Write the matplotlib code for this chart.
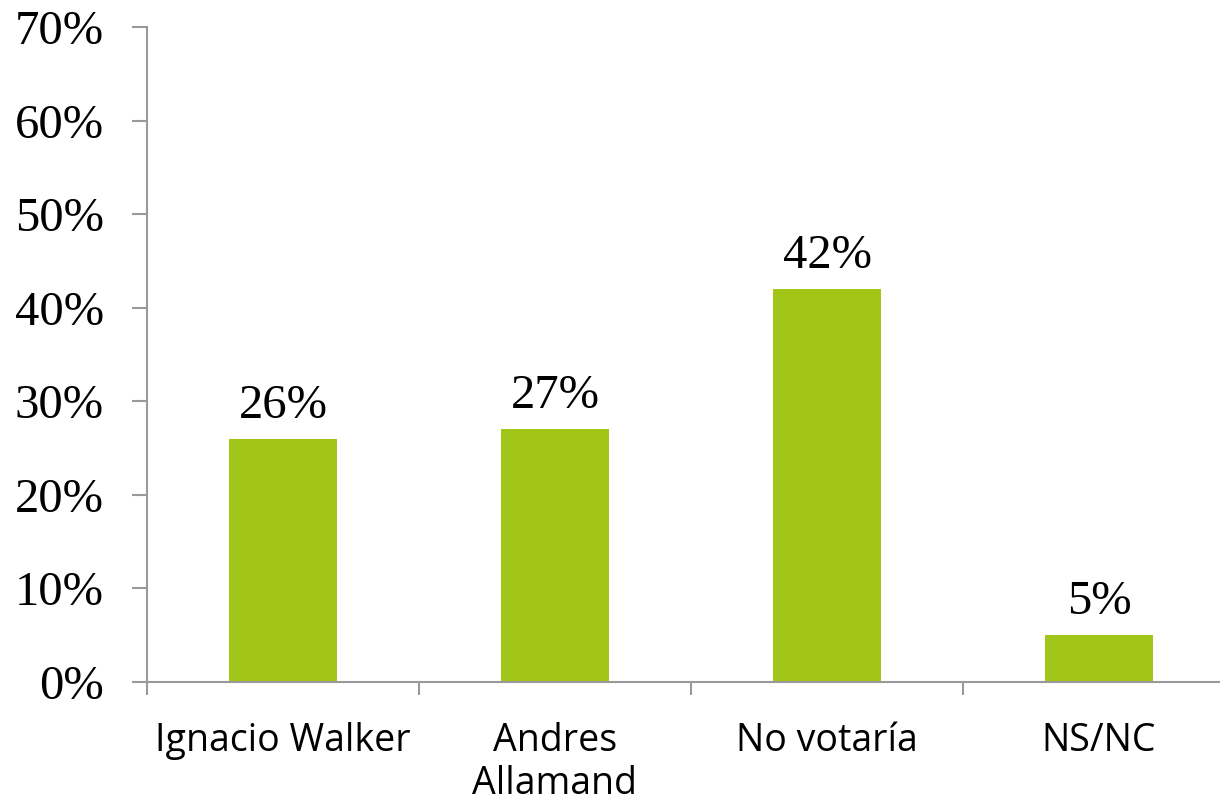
import matplotlib.pyplot as plt
from matplotlib.ticker import FixedLocator

categories = ['Ignacio Walker', 'Andres\nAllamand', 'No votaría', 'NS/NC']
values = [26, 27, 42, 5]
yticks = [0, 10, 20, 30, 40, 50, 60, 70]

bar_color = '#A2C617'
axis_color = '#999999'
num_font = 'Liberation Serif'
cat_font = ['Open Sans', 'DejaVu Sans']

fig = plt.figure(figsize=(12.2, 8.02), dpi=100)
ax = fig.add_axes([147 / 1220, 120 / 802, 1088 / 1220, 655 / 802])

x = list(range(len(categories)))
bars = ax.bar(x, values, width=0.4, color=bar_color)

for xi, v in zip(x, values):
    ax.annotate(f'{v}%', (xi, v), xytext=(0, 8), textcoords='offset points',
                ha='center', va='bottom', fontsize=35, family=num_font)

ax.set_xlim(-0.5, len(categories) - 0.5)
ax.set_ylim(0, 70)
ax.set_yticks(yticks)
ax.set_yticklabels([f'{t}%' for t in yticks], fontsize=35, family=num_font)

ax.set_xticks(x)
ax.set_xticklabels(categories, fontsize=27, family=cat_font, linespacing=1.15)
ax.xaxis.set_minor_locator(FixedLocator([i - 0.5 for i in range(len(categories) + 1)]))
ax.tick_params(axis='x', which='major', length=0, pad=29)
ax.tick_params(axis='x', which='minor', length=9, width=1.5, color=axis_color, direction='out')
ax.tick_params(axis='y', length=11, width=1.5, color=axis_color, direction='out', pad=20)

for side in ['top', 'right']:
    ax.spines[side].set_visible(False)
for side in ['left', 'bottom']:
    ax.spines[side].set_color(axis_color)
    ax.spines[side].set_linewidth(1.5)

fig.savefig('out.png', dpi=100)
